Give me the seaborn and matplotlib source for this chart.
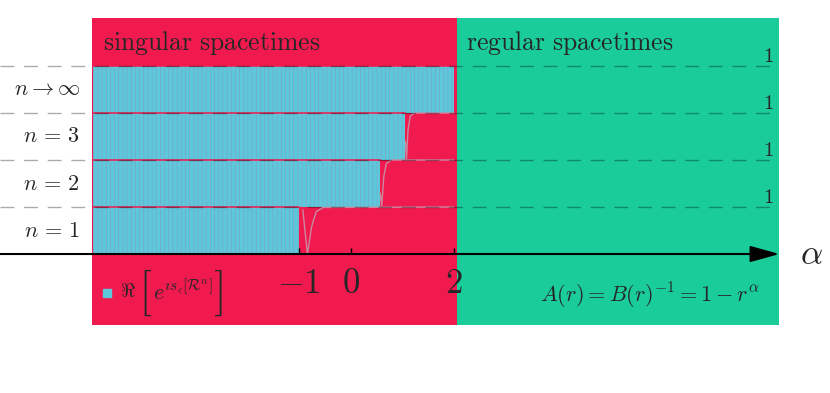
import pandas as pd
import seaborn as sns
import matplotlib.pyplot as plt
from matplotlib.patches import Rectangle

# ---- data ----
band_labels = [r"$n \,=\, 1$", r"$n \,=\, 2$", r"$n \,=\, 3$", r"$n \to \infty$"]
band_start = -5.0
band_ends = [-1.0, 0.57, 1.06, 2.0]      # alpha where the oscillating part stops
tick_values = [-1, 0, 2]
tick_labels = ["$-1$", "$0$", "$2$"]
level_labels = ["$1$", "$1$", "$1$", "$1$"]

# smooth Re[e^{i s}] once the action converges (value inside each band, 0..1)
curve_n1_alpha = [-0.93, -0.84, -0.76, -0.67, -0.54, 2.0]
curve_n1_value = [0.94, 0.0, 0.58, 0.90, 0.99, 1.0]
curve_n2_alpha = [0.57, 0.60, 0.64, 0.69, 0.79, 2.0]
curve_n2_value = [0.30, 0.03, 0.65, 0.93, 1.0, 1.0]
curve_n3_alpha = [1.06, 1.08, 1.11, 1.155, 1.24, 2.0]
curve_n3_value = [0.40, 0.03, 0.64, 0.94, 1.0, 1.0]

singular_span = (-5.02, 2.05)
regular_span = (2.05, 8.31)
panel_y = (-1.51, 5.02)

RED = "#F11A4F"
GREEN = "#1ACC9A"
CYAN = "#5DC8DC"

sns.set_theme(style="white")
plt.rcParams["mathtext.fontset"] = "cm"
plt.rcParams["hatch.linewidth"] = 0.45

fig = plt.figure(figsize=(8.3, 3.93), dpi=100)
ax = fig.add_axes([0, 0, 1, 1])
ax.set_xlim(-6.80, 9.29)
ax.set_ylim(-2.957, 5.404)
ax.axis("off")

# background regions
ax.add_patch(Rectangle((singular_span[0], panel_y[0]), singular_span[1] - singular_span[0],
                       panel_y[1] - panel_y[0], color=RED, lw=0, zorder=0))
ax.add_patch(Rectangle((regular_span[0], panel_y[0]), regular_span[1] - regular_span[0],
                       panel_y[1] - panel_y[0], color=GREEN, lw=0, zorder=0))

# oscillating (non-convergent) part of each band
for k, end in enumerate(band_ends):
    ax.fill_between([band_start, end], k, k + 1, facecolor=CYAN,
                    edgecolor=(0.80, 0.25, 0.45, 0.28), hatch="||||", lw=0, zorder=1)
    ax.plot([band_start, end], [k + 1, k + 1], color=RED, lw=1.3, alpha=0.85, zorder=2)

# convergent part
curves = [(curve_n1_alpha, curve_n1_value), (curve_n2_alpha, curve_n2_value),
          (curve_n3_alpha, curve_n3_value)]
for k, (a, v) in enumerate(curves):
    df = pd.DataFrame({"alpha": a, "value": [k + val for val in v]})
    sns.lineplot(data=df, x="alpha", y="value", color="#c98aa0", lw=1.0,
                 sort=False, ax=ax, zorder=3)

# dashed level lines and "1" labels
for k in range(1, 5):
    ax.plot([-6.8, regular_span[1]], [k, k], color="black", alpha=0.33,
            lw=1.0, dashes=(10, 7), zorder=4)
    ax.text(8.10, k + 0.22, level_labels[k - 1], fontsize=15, ha="center",
            va="center", zorder=5)

for k, lab in enumerate(band_labels):
    ax.text(-5.25, k + 0.5, lab, fontsize=16, ha="right", va="center")

# alpha axis
ax.annotate("", xy=(regular_span[1], 0), xytext=(-6.8, 0),
            arrowprops=dict(arrowstyle="-|>,head_length=0.9,head_width=0.25",
                            color="black", lw=1.5, mutation_scale=20,
                            shrinkA=0, shrinkB=0),
            zorder=6)
ax.vlines(tick_values, 0, 0.13, color="black", lw=1.0, zorder=6)
for t, lab in zip(tick_values, tick_labels):
    ax.text(t, -0.62, lab, fontsize=25, ha="center", va="center")
ax.text(8.93, 0.0, r"$\alpha$", fontsize=25, ha="center", va="center")

# region titles
ax.text(-4.81, 4.49, r"$\mathrm{singular\ spacetimes}$", fontsize=18.5, ha="left", va="center")
ax.text(2.23, 4.49, r"$\mathrm{regular\ spacetimes}$", fontsize=18.5, ha="left", va="center")

# legend and metric
ax.plot([-4.73], [-0.83], marker="s", ms=5.5, color=CYAN, ls="none")
ax.text(-4.47, -0.80, r"$\Re$", fontsize=14, ha="left", va="center")
ax.text(-3.99, -0.83, r"$[$", fontsize=34, ha="center", va="center")
ax.text(-3.84, -0.80, r"$e^{\imath s_\epsilon[\mathcal{R}^n]}$",
        fontsize=16, ha="left", va="center")
ax.text(-2.58, -0.83, r"$]$", fontsize=34, ha="center", va="center")
ax.text(3.66, -0.89, r"$A(r) = B(r)^{-1} = 1 - r^{\alpha}$", fontsize=16,
        ha="left", va="center")

fig.savefig("out.png", dpi=100)
